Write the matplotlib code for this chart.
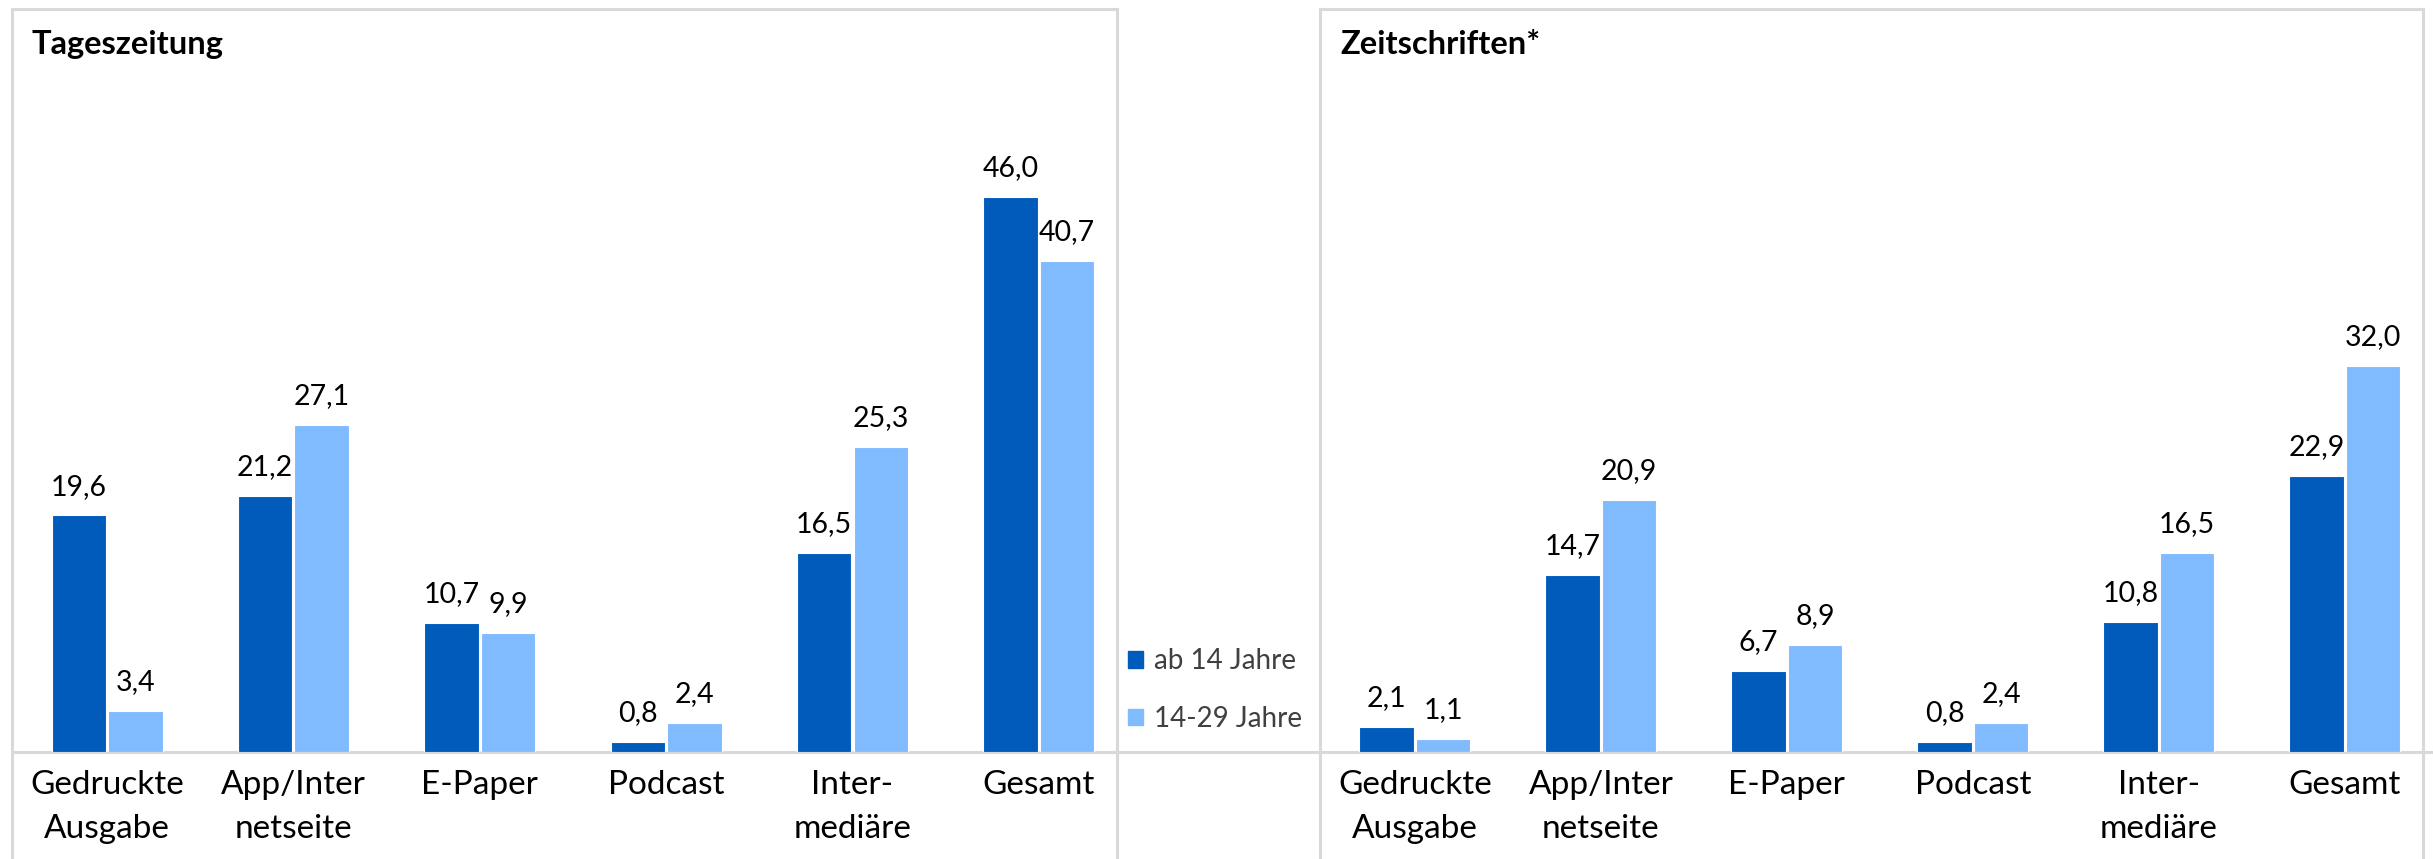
import matplotlib
matplotlib.use("Agg")
import matplotlib.pyplot as plt
import numpy as np
from matplotlib.lines import Line2D
from matplotlib.patches import Patch

# data (Reichweite in %)
categories = ["Gedruckte\nAusgabe", "App/Inter\nnetseite", "E-Paper", "Podcast", "Inter-\nmediäre", "Gesamt"]
tz_ab14 = [19.6, 21.2, 10.7, 0.8, 16.5, 46.0]
tz_1429 = [3.4, 27.1, 9.9, 2.4, 25.3, 40.7]
zs_ab14 = [2.1, 14.7, 6.7, 0.8, 10.8, 22.9]
zs_1429 = [1.1, 20.9, 8.9, 2.4, 16.5, 32.0]
series = ["ab 14 Jahre", "14-29 Jahre"]
titles = ["Tageszeitung", "Zeitschriften*"]

c_dark = "#005BBB"
c_light = "#80BBFF"
c_grid = "#D9D9D9"

plt.rcParams['font.family'] = ['Lato', 'DejaVu Sans']

W, H = 2433, 859
fig = plt.figure(figsize=(W/100, H/100), dpi=100)

def px_rect(x0, y0, x1, y1):
    return [x0/W, 1 - y1/H, (x1 - x0)/W, (y1 - y0)/H]

def fmt(v):
    return f"{v:.1f}".replace(".", ",")

base_y = 752
panels = [(12, 1117, titles[0], tz_ab14, tz_1429),
          (1320, 2423, titles[1], zs_ab14, zs_1429)]

x = np.arange(len(categories))
bw = 0.292
for x0, x1, title, a, b in panels:
    ax = fig.add_axes(px_rect(x0, 10, x1, base_y))
    ax.set_xlim(-0.51, 5.42)
    ax.set_ylim(0, (base_y - 10) / 12.07)
    b1 = ax.bar(x - 0.152, a, bw, color=c_dark, edgecolor='white', linewidth=0.8)
    b2 = ax.bar(x + 0.152, b, bw, color=c_light, edgecolor='white', linewidth=0.8)
    for bars, vals in ((b1, a), (b2, b)):
        for r, v in zip(bars, vals):
            ax.annotate(fmt(v), (r.get_x() + r.get_width()/2, v), xytext=(0, 15),
                        textcoords='offset points', ha='center', va='baseline',
                        fontsize=20.5, color='black')
    ax.set_xticks(x)
    ax.set_xticklabels(categories, fontsize=24)
    ax.tick_params(axis='x', length=0, pad=13)
    for lbl in ax.get_xticklabels():
        lbl.set_linespacing(1.58)
    ax.set_yticks([])
    for s in ax.spines.values():
        s.set_visible(False)
    ax.patch.set_alpha(0)
    fig.text((x0 + 20)/W, 1 - 54/H, title, fontsize=23.5, fontweight='bold', va='baseline')
    # frame: left, top, right
    for xs, ys in (([x0, x0], [H, 9]), ([x0, x1], [9, 9]), ([x1, x1], [9, H])):
        fig.add_artist(Line2D([v/W for v in xs], [1 - v/H for v in ys], color=c_grid, lw=2.2,
                              transform=fig.transFigure, zorder=0))

# baseline across the whole width
fig.add_artist(Line2D([12/W, 1], [1 - base_y/H]*2, color=c_grid, lw=2.2,
                      transform=fig.transFigure, zorder=0))

handles = [Patch(color=c_dark), Patch(color=c_light)]
fig.legend(handles, series, loc='center left', bbox_to_anchor=(1128/W, 1 - 690/H),
           frameon=False, fontsize=20, labelcolor='#404040', handlelength=0.55,
           handleheight=0.55, handletextpad=0.4, labelspacing=1.14, borderpad=0,
           borderaxespad=0)

fig.savefig("out.png", dpi=100)
